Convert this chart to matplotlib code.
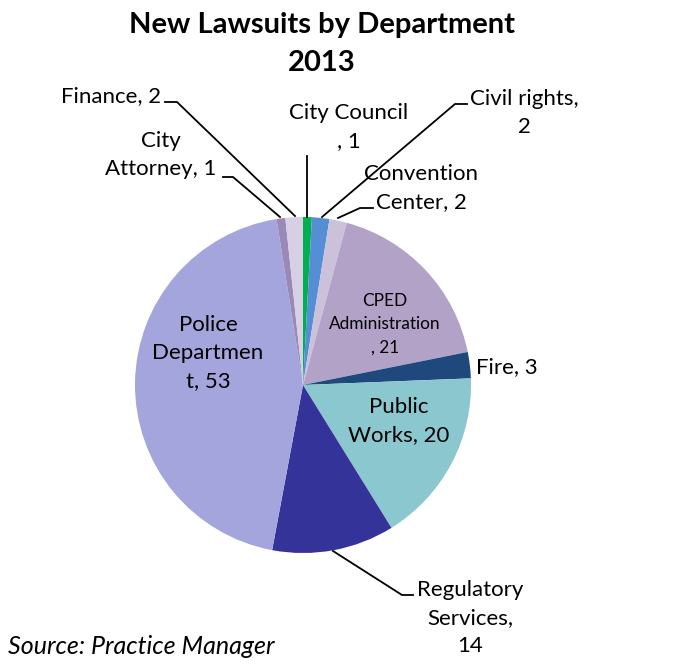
import matplotlib
matplotlib.use("Agg")
import matplotlib.pyplot as plt

plt.rcParams['font.family'] = ['Lato', 'DejaVu Sans']

# ---- data (clockwise from 12 o'clock) ----
categories = ["City Council", "Civil rights", "Convention Center", "CPED Administration",
              "Fire", "Public Works", "Regulatory Services", "Police Department",
              "City Attorney", "Finance"]
values = [1, 2, 2, 21, 3, 20, 14, 53, 1, 2]
colors = ["#00B050", "#558ED5", "#CCC1DA", "#B3A2C7", "#1F497D", "#8BC7CF",
          "#333399", "#A5A5DD", "#9A89B7", "#D7CFE4"]
# display text for each label (as wrapped in the original)
label_texts = ["City Council\n, 1", "Civil rights,\n2", "Convention\nCenter, 2",
               "CPED\nAdministration\n, 21", "Fire, 3", "Public\nWorks, 20",
               "Regulatory\nServices,\n14", "Police\nDepartmen\nt, 53",
               "City\nAttorney, 1", "Finance, 2"]
title_text = "New Lawsuits by Department\n2013"
source_text = "Source: Practice Manager"

W, H = 698, 664
fig = plt.figure(figsize=(W / 100, H / 100), dpi=100)
ax = fig.add_axes([0, 0, 1, 1])

def Y(p):
    return H - p

cx, cy, r = 303, 385, 168
ax.pie(values, colors=colors, startangle=90, counterclock=False,
       center=(cx, Y(cy)), radius=r, frame=True,
       wedgeprops=dict(linewidth=0))
ax.set_xlim(0, W)
ax.set_ylim(0, H)
ax.axis("off")

fs = 16
# label positions (center x, center y in pixels), font size, line spacing
label_pos = {
    "City Council": (349, 127, fs, 1.5),
    "Civil rights": (524, 113, fs, 1.5),
    "Convention Center": (421, 188, fs, 1.5),
    "CPED Administration": (385, 324, 12.4, 1.55),
    "Fire": (507, 367, fs, 1.5),
    "Public Works": (399, 421, fs, 1.5),
    "Regulatory Services": (470, 618, fs, 1.5),
    "Police Department": (208, 353, fs, 1.5),
    "City Attorney": (161, 155, fs, 1.5),
    "Finance": (111, 96, fs, 1.5),
}
for cat, txt in zip(categories, label_texts):
    x, y, s, ls = label_pos[cat]
    ax.text(x, Y(y), txt, ha="center", va="center", fontsize=s,
            color="black", linespacing=ls)

# leader lines
leaders = [
    [(307, 156), (307, 217)],
    [(467, 104), (455, 104), (322, 217)],
    [(373, 208), (360, 208), (338, 218)],
    [(413, 595), (402, 595), (333, 551)],
    [(223, 177), (233, 177), (280, 217)],
    [(165, 102), (177, 102), (295, 216)],
]
for pts in leaders:
    ax.plot([p[0] for p in pts], [Y(p[1]) for p in pts], color="black", lw=1.3)

ax.text(322, Y(44), title_text, ha="center", va="center", fontsize=21,
        fontweight="bold", linespacing=1.6)
ax.text(8, Y(646), source_text, ha="left", va="center", fontsize=18,
        style="italic")

fig.savefig("out.png", dpi=100)
